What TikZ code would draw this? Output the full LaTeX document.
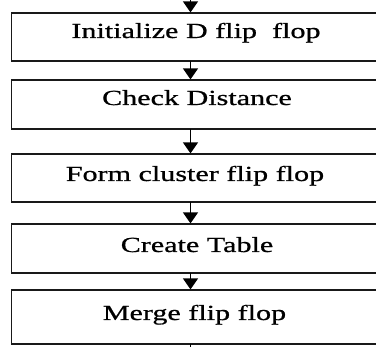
\documentclass[tikz,border=0pt]{standalone}
\usepackage{fontspec}
\setmainfont{Liberation Serif}[FakeStretch=1.4,FakeBold=0.8]
\usetikzlibrary{arrows.meta}
\begin{document}
\begin{tikzpicture}[x=1pt,y=-1pt,
  stepbox/.style={draw=black!90, line width=1.8pt, inner sep=0pt, outer sep=0pt,
    anchor=north west, minimum width=400pt},
  steptext/.style={anchor=base, inner sep=0pt, font=\fontsize{21.5}{24}\selectfont},
  flow/.style={line width=1.3pt, -{Triangle[width=15pt,length=11pt]}, shorten >=0.6pt}]
  \useasboundingbox (0,0) rectangle (376,347);
  \clip (0,0) rectangle (376,347);
  % axis of the connectors
  \coordinate (ax) at (190.5,0);
  \coordinate (in) at (190.5,-12);
  \coordinate (out) at (190.5,360);
  % process boxes (open to the right)
  \node[stepbox, minimum height=48pt] (b1) at (11.5,13) {};
  \node[stepbox, minimum height=49pt] (b2) at (11.5,80) {};
  \node[stepbox, minimum height=48pt] (b3) at (11.5,154) {};
  \node[stepbox, minimum height=49pt] (b4) at (11.5,224) {};
  \node[stepbox, minimum height=54pt] (b5) at (11.5,290) {};
  % step labels
  \node[steptext] (t1) at (196,38) {Initialize D flip\ \ flop};
  \node[steptext] (t2) at (197,105) {Check Distance};
  \node[steptext] (t3) at (195,181) {Form cluster flip flop};
  \node[steptext] (t4) at (197,252) {Create Table};
  \node[steptext] (t5) at (194.5,320) {Merge flip flop};
  % connectors
  \draw[flow] (in) -- (b1.north -| ax);
  \draw[flow] (b1.south -| ax) -- (b2.north -| ax);
  \draw[flow] (b2.south -| ax) -- (b3.north -| ax);
  \draw[flow] (b3.south -| ax) -- (b4.north -| ax);
  \draw[flow] (b4.south -| ax) -- (b5.north -| ax);
  \draw[line width=1.3pt] (b5.south -| ax) -- (out);
\end{tikzpicture}
\end{document}
